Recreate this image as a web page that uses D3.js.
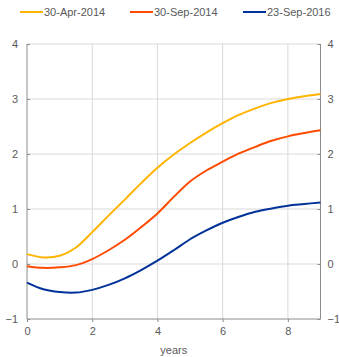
<!DOCTYPE html>
<html><head><meta charset="utf-8">
<script src="https://cdn.jsdelivr.net/npm/d3@7"></script>
<style>body{margin:0;background:#fff}svg{display:block;font-family:"Liberation Sans",Arial,sans-serif}</style>
</head><body><svg id="c" width="339" height="357"></svg>
<script>
const years = [0,0.5,1,1.5,2,2.5,3,3.5,4,4.5,5,5.5,6,6.5,7,7.5,8,8.5,9];
const apr2014 = [0.18,0.12,0.15,0.30,0.58,0.88,1.17,1.47,1.75,1.99,2.20,2.39,2.56,2.71,2.83,2.93,3.00,3.05,3.09];
const sep2014 = [-0.04,-0.07,-0.06,-0.02,0.09,0.25,0.44,0.67,0.92,1.22,1.50,1.70,1.86,2.01,2.13,2.24,2.32,2.38,2.43];
const sep2016 = [-0.34,-0.46,-0.51,-0.52,-0.47,-0.38,-0.26,-0.11,0.06,0.25,0.45,0.61,0.75,0.86,0.95,1.01,1.06,1.09,1.12];
const seriesNames = ["30-Apr-2014","30-Sep-2014","23-Sep-2016"];
const seriesColors = ["#FFB400","#FF4B00","#003299"];
const xTicks = [0,2,4,6,8];
const yTicks = [-1,0,1,2,3,4];
const xLabel = "years";

const svg = d3.select("#c");
const x = d3.scaleLinear().domain([0,9]).range([27,320.5]);
const y = d3.scaleLinear().domain([-1,4]).range([319,44]);
const grey = "#595959";

// grid
svg.append("g").selectAll("line").data(xTicks.slice(1)).join("line")
  .attr("x1",d=>x(d)).attr("x2",d=>x(d)).attr("y1",y(4)).attr("y2",y(-1))
  .attr("stroke","#d9d9d9").attr("stroke-width",1);
svg.append("g").selectAll("line").data(yTicks.slice(1)).join("line")
  .attr("x1",x(0)).attr("x2",x(9)).attr("y1",d=>y(d)).attr("y2",d=>y(d))
  .attr("stroke","#d9d9d9").attr("stroke-width",1);

// axes
const axL = d3.axisLeft(y).tickValues(yTicks).tickSize(-3).tickPadding(9).tickFormat(d3.format("d"));
const axR = d3.axisRight(y).tickValues(yTicks).tickSize(-3).tickPadding(7).tickFormat(d3.format("d"));
const axB = d3.axisBottom(x).tickValues(xTicks).tickSize(3).tickPadding(5).tickFormat(d3.format("d"));
function style(g){
  g.select(".domain").attr("stroke","#8c8c8c");
  g.selectAll(".tick line").attr("stroke","#8c8c8c");
  g.selectAll("text").attr("fill",grey).style("font-size","11px").style("font-family","Liberation Sans, Arial, sans-serif");
}
svg.append("g").attr("transform",`translate(${x(0)},0)`).call(axL).call(style).select(".domain").attr("d",`M0,${y(4)}V${y(-1)}`);
svg.append("g").attr("transform",`translate(${x(9)},0)`).call(axR).call(style).select(".domain").attr("d",`M0,${y(4)}V${y(-1)}`);
svg.append("g").attr("transform",`translate(0,${y(-1)})`).call(axB).call(style).select(".domain").attr("d",`M${x(0)},0H${x(9)}`);

svg.append("text").attr("x",(x(0)+x(9))/2).attr("y",354).attr("text-anchor","middle")
  .attr("fill",grey).style("font-size","11px").text(xLabel);

// lines
const data = [apr2014,sep2014,sep2016];
const line = d3.line().x((d,i)=>x(years[i])).y(d=>y(d)).curve(d3.curveCatmullRom.alpha(0.5));
data.forEach((s,k)=>{
  svg.append("path").datum(s).attr("d",line).attr("fill","none")
    .attr("stroke",seriesColors[k]).attr("stroke-width",2);
});

// legend
const legX = [20,130,243];
seriesNames.forEach((n,k)=>{
  const g = svg.append("g").attr("transform",`translate(${legX[k]},12)`);
  g.append("line").attr("x1",0).attr("x2",23).attr("y1",0).attr("y2",0)
    .attr("stroke",seriesColors[k]).attr("stroke-width",2);
  g.append("text").attr("x",24).attr("y",4).attr("fill",grey).style("font-size","11px").text(n);
});
</script></body></html>
